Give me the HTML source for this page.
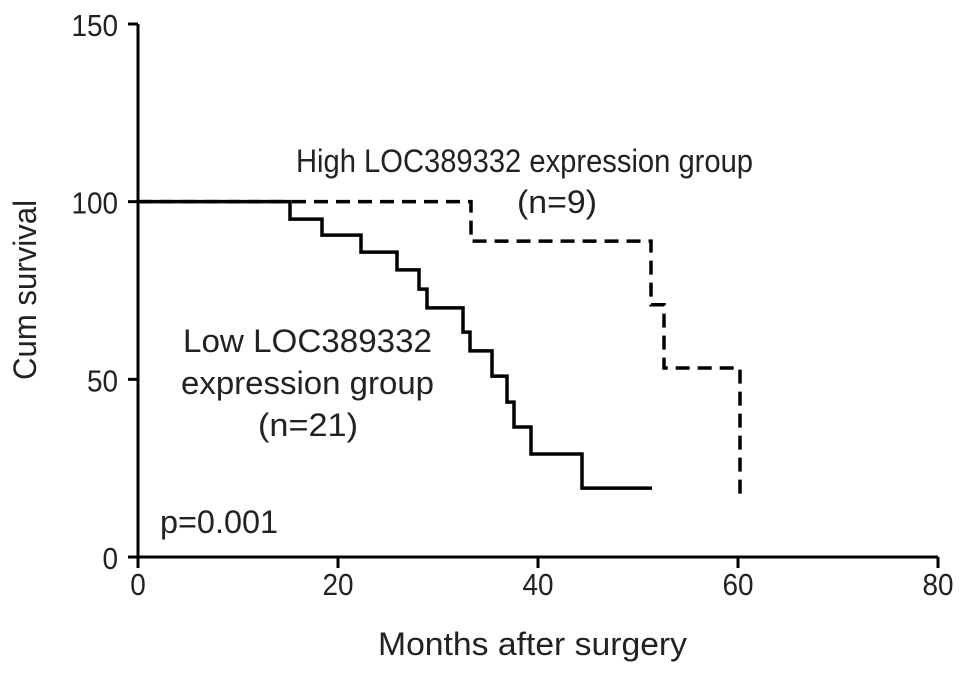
<!DOCTYPE html>
<html><head><meta charset="utf-8"><style>
html,body{margin:0;padding:0;background:#fff;}
svg{display:block;font-family:"Liberation Sans",Arial,sans-serif;}
</style></head><body>
<svg id="chart" width="969" height="674" viewBox="0 0 969 674"></svg>
<script>
const xTicks=[0,20,40,60,80];
const yTicks=[0,50,100,150];
const lowTimes=[15.2,18.4,22.3,25.9,28.1,28.9,32.5,33.2,35.4,36.9,37.6,39.3,44.4];
const lowSurv=[95.1,90.6,85.8,80.8,75.4,70.1,63.3,58.0,50.9,43.6,36.6,29.0,19.4];
const lowEnd=[51.4];
const highTimes=[33.3,51.3,52.6,60.2];
const highSurv=[88.9,71.0,53.2,16.0];
const highEnd=[60.2];

const svg=document.getElementById('chart');
const NS='http://www.w3.org/2000/svg';
const X0=138,X1=938,Y0=557,Y1=24;
const sx=v=>X0+(v-0)/80*(X1-X0);
const sy=v=>Y0-(v-0)/150*(Y0-Y1);
function mk(t,a){const e=document.createElementNS(NS,t);for(const k in a)e.setAttribute(k,a[k]);svg.appendChild(e);return e;}
function txt(s,x,y,name,anchor,opts){
 opts=opts||{};
 const a={x:0,y:0,'text-anchor':anchor||'middle','font-size':opts.fs||32,fill:'#222',
  transform:`translate(${x},${y})${opts.rot?' rotate(-90)':''} scale(${opts.sx||1},1)`};
 if(opts.len){a.textLength=opts.len;a.lengthAdjust='spacingAndGlyphs';}
 const t=mk('text',a);
 t.textContent=s;
 
 
 return t;
}

let ax=mk('path',{d:`M${X0},${Y1} V${Y0} H${X1}`,fill:'none',stroke:'#000','stroke-width':3});


yTicks.forEach(v=>{
 const l=mk('line',{x1:X0-10,x2:X0,y1:sy(v),y2:sy(v),stroke:'#000','stroke-width':3});
 
 
 txt(String(v),X0-20,sy(v)+12,'y-tick-label','end',{fs:31,sx:0.9});
});
xTicks.forEach(v=>{
 const l=mk('line',{x1:sx(v),x2:sx(v),y1:Y0,y2:Y0+11,stroke:'#000','stroke-width':3});
 
 
 txt(String(v),sx(v),Y0+38,'x-tick-label','middle',{fs:31,sx:0.9});
});
function stepPath(times,surv,end){
 let d=`M${sx(0)},${sy(100)}`;
 times.forEach((tm,i)=>{d+=` H${sx(tm)} V${sy(surv[i])}`;});
 d+=` H${sx(end)}`;
 return d;
}
const low=mk('path',{d:stepPath(lowTimes,lowSurv,lowEnd[0]),fill:'none',stroke:'#000','stroke-width':3.5});


const high=mk('path',{d:stepPath(highTimes,highSurv,highEnd[0]),fill:'none',stroke:'#000','stroke-width':3.5,'stroke-dasharray':'14,8'});



txt('High LOC389332 expression group',296,172,'high-group-label','start',{len:457});
txt('(n=9)',557,213,'high-group-n','middle',{len:80});
txt('Low LOC389332',183,352,'low-group-label','start',{len:249});
txt('expression group',181,394,'low-group-label-2','start',{len:253});
txt('(n=21)',308,436,'low-group-n','middle',{len:100});
txt('p=0.001',160,533,'p-value','start',{len:118});
txt('Months after surgery',378,655,'x-axis-title','start',{len:309});
txt('Cum survival',36,290,'y-axis-title','middle',{rot:true,len:180});
</script>
</body></html>
